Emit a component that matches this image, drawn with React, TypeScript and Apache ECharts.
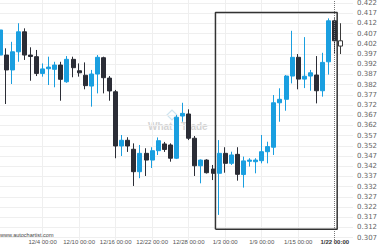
import React, { useEffect, useRef } from 'react';
import * as echarts from 'echarts';

const dates = ['11/27','11/28','11/29','11/30','12/1','12/2','12/3','12/4','12/5','12/6','12/7','12/8','12/9','12/10','12/11','12/12','12/13','12/14','12/15','12/16','12/17','12/18','12/19','12/20','12/21','12/22','12/23','12/24','12/25','12/26','12/27','12/28','12/29','12/30','12/31','1/1','1/2','1/3','1/4','1/5','1/6','1/7','1/8','1/9','1/10','1/11','1/12','1/13','1/14','1/15','1/16','1/17','1/18','1/19','1/20','1/21','1/22','1/23','1/24'];

const opens = [0.3965,0.3965,0.3892,0.3981,0.4079,0.3965,0.3957,0.3875,0.3898,0.3895,
  0.3916,0.3834,0.3944,0.3888,0.3866,0.3813,0.3872,0.3952,0.3852,0.3785,
  0.3519,0.3547,0.3503,0.3393,0.3483,0.3450,0.3496,0.3529,0.3524,0.3459,
  0.3666,0.3676,0.3557,0.3422,0.3450,0.3406,0.3385,0.3483,0.3434,0.3478,
  0.3379,0.3444,0.3442,0.3447,0.3491,0.3513,0.3731,0.3748,0.3862,0.3954,
  0.3847,0.3862,0.3867,0.3790,0.3932,0.4133,0.4035];
const closes = [0.4088,0.3892,0.3981,0.4079,0.3965,0.3958,0.3875,0.3897,0.3906,0.3916,
  0.3846,0.3944,0.3903,0.3878,0.3815,0.3872,0.3954,0.3854,0.3789,0.3519,
  0.3547,0.3519,0.3393,0.3483,0.3450,0.3496,0.3545,0.3502,0.3459,0.3660,
  0.3679,0.3557,0.3422,0.3450,0.3388,0.3385,0.3483,0.3434,0.3475,0.3380,
  0.3446,0.3450,0.3450,0.3491,0.3516,0.3731,0.3748,0.3862,0.3954,0.3847,
  0.3861,0.3878,0.3790,0.3929,0.4133,0.4035,0.4009];
const lows = [0.3955,0.3725,0.3823,0.3932,0.3941,0.3839,0.3862,0.3859,0.3818,0.3807,
  0.3741,0.3829,0.3856,0.3859,0.3797,0.3712,0.3777,0.3777,0.3741,0.3459,
  0.3470,0.3490,0.3323,0.3361,0.3372,0.3411,0.3475,0.3490,0.3442,0.3455,
  0.3638,0.3548,0.3372,0.3336,0.3384,0.3352,0.3181,0.3388,0.3426,0.3349,
  0.3315,0.3418,0.3385,0.3434,0.3434,0.3475,0.3638,0.3692,0.3826,0.3797,
  0.3803,0.3790,0.3728,0.3761,0.3869,0.3970,0.3970];
const highs = [0.4097,0.3998,0.4030,0.4121,0.4096,0.4003,0.3990,0.3924,0.3957,0.3932,
  0.3932,0.3960,0.3957,0.3924,0.3929,0.3892,0.3965,0.3957,0.3862,0.3794,
  0.3573,0.3562,0.3532,0.3524,0.3508,0.3513,0.3561,0.3539,0.3532,0.3671,
  0.3731,0.3699,0.3568,0.3453,0.3454,0.3426,0.3548,0.3513,0.3491,0.3513,
  0.3467,0.3459,0.3459,0.3573,0.3540,0.3769,0.3802,0.3867,0.4084,0.3970,
  0.4053,0.3892,0.3960,0.3976,0.4145,0.4145,0.4121];

const yTicks = [0.307,0.312,0.317,0.322,0.327,0.332,0.337,0.342,0.347,0.352,0.357,0.362,0.367,0.372,0.377,0.382,0.387,0.392,0.397,0.402,0.407,0.412,0.417,0.422];
const labeledDates = ['12/4','12/10','12/16','12/22','12/28','1/3','1/9','1/15'];
const currentDate = '1/21';
const currentLabel = '1/22 00:00';
const liveDate = '1/22';

// pattern box (category index positions, prices)
const boxStart = 35.4;
const boxEnd = 55.4;
const boxTop = 0.4174;
const boxBottom = 0.3111;

export default function App() {
  const ref = useRef<HTMLDivElement>(null);
  useEffect(() => {
    document.body.style.margin = '0';
    const chart = echarts.init(ref.current!, null, { renderer: 'svg' });
    const UP = '#1a9fe0';
    const DOWN = '#2b2d36';
    const liveIdx = dates.indexOf(liveDate);
    const candleData = opens.map((o, i) => {
      const item: any = { value: [o, closes[i], lows[i], highs[i]] };
      if (i === liveIdx) {
        item.itemStyle = { color: '#ffffff', color0: '#ffffff', borderColor: '#3a3a3a', borderColor0: '#3a3a3a' };
      }
      return item;
    });
    const labelIdx = new Set(labeledDates.map((d) => dates.indexOf(d)));
    const curIdx = dates.indexOf(currentDate);

    chart.setOption({
      animation: false,
      grid: { left: 0, right: 27, top: 0, bottom: 10, containLabel: false, outerBoundsMode: 'none' },
      xAxis: [
        {
          type: 'category',
          data: dates,
          boundaryGap: false,
          axisLine: { show: false },
          axisTick: { show: false },
          axisLabel: {
            inside: false,
            margin: -1,
            interval: (i: number) => labelIdx.has(i) || i === curIdx,
            formatter: (v: string, i: number) => (i === curIdx ? `{cur|${currentLabel}}` : `${v} 00:00`),
            fontSize: 6,
            fontFamily: 'Liberation Sans',
            color: '#555',
            rich: { cur: { fontSize: 6, fontFamily: 'Liberation Sans', fontWeight: 'bold', color: '#333' } },
          },
          splitLine: { show: true, interval: (i: number) => labelIdx.has(i), lineStyle: { color: '#efefef', width: 1 } },
        },
        { type: 'value', min: 0, max: dates.length - 1, show: false },
      ],
      yAxis: {
        type: 'value',
        position: 'right',
        min: 0.3058,
        max: 0.4235,
        axisLine: { show: false },
        axisTick: { show: false, customValues: yTicks },
        axisLabel: {
          customValues: yTicks,
          formatter: (v: number) => v.toFixed(3),
          fontSize: 7,
          fontFamily: 'DejaVu Sans',
          color: '#666',
          margin: 4,
        },
        splitLine: { show: true, lineStyle: { color: '#efefef', width: 1 } },
      },
      graphic: [
        { type: 'text', x: 148, y: 126, z: 0, style: { text: 'What', fontSize: 10, fontWeight: 'bold', fontFamily: 'Liberation Sans', fill: '#d4d4d4', verticalAlign: 'middle' } },
        { type: 'text', x: 181, y: 126, z: 0, style: { text: 'Trade', fontSize: 10, fontWeight: 'bold', fontFamily: 'Liberation Sans', fill: '#d4d4d4', verticalAlign: 'middle' } },
        { type: 'polygon', z: 0, shape: { points: [[167, 115], [172, 110], [177, 115], [172, 120]] }, style: { fill: 'none', stroke: '#cfe4ef', lineWidth: 1.2 } },
        { type: 'text', x: 0, y: 234.5, z: 100, style: { text: 'www.autochartist.com', fontSize: 5.5, fontFamily: 'Liberation Sans', fill: '#444', verticalAlign: 'middle' } },
      ],
      series: [
        {
          type: 'candlestick',
          data: candleData,
          barWidth: 4.5,
          itemStyle: { color: UP, color0: DOWN, borderColor: UP, borderColor0: DOWN, borderWidth: 1 },
          markLine: {
            silent: true,
            symbol: 'none',
            animation: false,
            label: { show: false },
            lineStyle: { type: 'dotted', color: '#777', width: 1 },
            data: [{ xAxis: currentDate }],
          },
        },
        {
          type: 'line',
          xAxisIndex: 1,
          yAxisIndex: 0,
          silent: true,
          symbol: 'none',
          z: 5,
          lineStyle: { color: '#333', width: 1.5 },
          data: [[boxStart, boxBottom], [boxStart, boxTop], [boxEnd, boxTop], [boxEnd, boxBottom], [boxStart, boxBottom]],
        },
      ],
    });
    return () => chart.dispose();
  }, []);
  return <div ref={ref} style={{ width: 380, height: 250 }} />;
}
